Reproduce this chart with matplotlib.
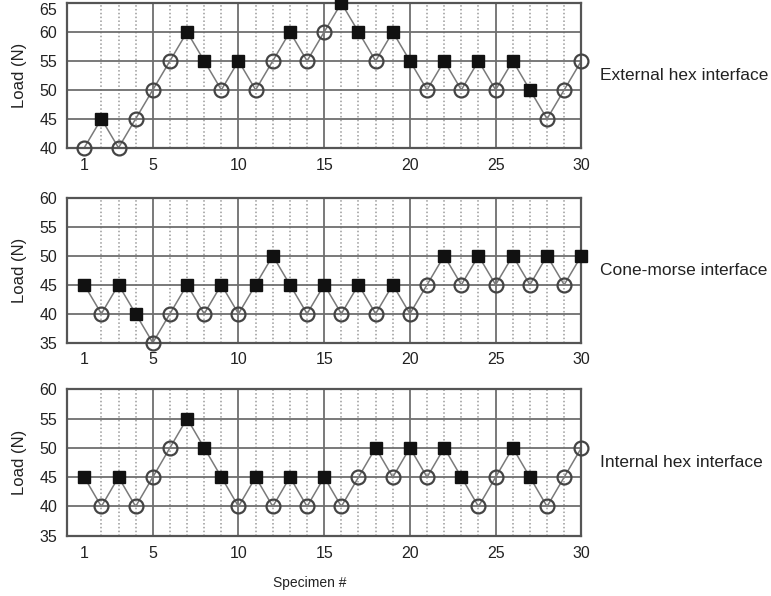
import numpy as np
import matplotlib
matplotlib.use('Agg')
import matplotlib.pyplot as plt

plt.rcParams['font.family'] = ['Liberation Sans', 'DejaVu Sans']

# ─── Data ────────────────────────────────────────────────────────────────────
specimen = list(range(1, 31))

external_load = [40, 45, 40, 45, 50, 55, 60, 55, 50, 55,
                 50, 55, 60, 55, 60, 65, 60, 55, 60, 55,
                 50, 55, 50, 55, 50, 55, 50, 45, 50, 55]
# 1 = failure (filled square), 0 = survival (open circle)
external_fail = [0, 1, 0, 0, 0, 0, 1, 1, 0, 1,
                 0, 0, 1, 0, 0, 1, 1, 0, 1, 1,
                 0, 1, 0, 1, 0, 1, 1, 0, 0, 0]

cone_load = [45, 40, 45, 40, 35, 40, 45, 40, 45, 40,
             45, 50, 45, 40, 45, 40, 45, 40, 45, 40,
             45, 50, 45, 50, 45, 50, 45, 50, 45, 50]
cone_fail = [1, 0, 1, 1, 0, 0, 1, 0, 1, 0,
             1, 1, 1, 0, 1, 0, 1, 0, 1, 0,
             0, 1, 0, 1, 0, 1, 0, 1, 0, 1]

internal_load = [45, 40, 45, 40, 45, 50, 55, 50, 45, 40,
                 45, 40, 45, 40, 45, 40, 45, 50, 45, 50,
                 45, 50, 45, 40, 45, 50, 45, 40, 45, 50]
internal_fail = [1, 0, 1, 0, 0, 0, 1, 1, 1, 0,
                 1, 0, 1, 0, 1, 0, 0, 1, 0, 1,
                 0, 1, 1, 0, 0, 1, 1, 0, 0, 0]

panel_names = ['External hex interface', 'Cone-morse interface', 'Internal hex interface']
panel_ylim = [(40, 65), (35, 60), (35, 60)]
x_ticks = [1, 5, 10, 15, 20, 25, 30]

# ─── Layout (figure fractions) ───────────────────────────────────────────────
axes_rects = [
    [0.087, 0.752, 0.667, 0.243],
    [0.087, 0.425, 0.667, 0.243],
    [0.087, 0.101, 0.667, 0.246],
]

GRID = '#6e6e6e'
LINE = '#7a7a7a'


def draw_panel(ax, loads, fails, ylim, name):
    ax.set_xlim(0, 30)
    ax.set_ylim(*ylim)
    ax.set_yticks(np.arange(ylim[0], ylim[1] + 1, 5))
    ax.set_xticks(x_ticks)
    ax.set_xticks(specimen, minor=True)

    # grid: dotted at every specimen, solid at every 5th, solid horizontals
    ax.grid(which='minor', axis='x', color='#9a9a9a', linestyle=(0, (1, 1.5)), linewidth=1.1)
    ax.grid(which='major', axis='y', color=GRID, linestyle='-', linewidth=1.3)
    for xv in range(5, 30, 5):
        ax.axvline(xv, color=GRID, linewidth=1.3, zorder=0.6)
    ax.set_axisbelow(True)

    ax.plot(specimen, loads, color=LINE, linewidth=1.1, zorder=2)
    fx = [s for s, f in zip(specimen, fails) if f]
    fy = [l for l, f in zip(loads, fails) if f]
    sx = [s for s, f in zip(specimen, fails) if not f]
    sy = [l for l, f in zip(loads, fails) if not f]
    ax.plot(fx, fy, linestyle='none', marker='s', markersize=8.5,
            markerfacecolor='#111111', markeredgecolor='#111111', zorder=3,
            clip_on=False)
    ax.plot(sx, sy, linestyle='none', marker='o', markersize=10,
            markerfacecolor='none', markeredgecolor='#444444',
            markeredgewidth=1.6, zorder=3, clip_on=False)

    for sp in ax.spines.values():
        sp.set_color('#555555')
        sp.set_linewidth(1.6)
    ax.tick_params(which='both', length=0, labelsize=11.5, colors='#222222')
    ax.tick_params(axis='x', pad=7)
    ax.tick_params(axis='y', pad=7)
    ax.set_ylabel('Load (N)', fontsize=12, color='#222222', labelpad=9)

    ax.text(1.036, 0.5, name, transform=ax.transAxes, ha='left', va='center',
            fontsize=12.5, color='#222222')


fig = plt.figure(figsize=(7.71, 5.96), dpi=100)
series = [(external_load, external_fail), (cone_load, cone_fail), (internal_load, internal_fail)]
axes = []
for rect, (loads, fails), ylim, name in zip(axes_rects, series, panel_ylim, panel_names):
    ax = fig.add_axes(rect)
    draw_panel(ax, loads, fails, ylim, name)
    axes.append(ax)

# top label of the first panel sits just under the figure edge
axes[0].get_yticklabels()[-1].set_verticalalignment('top')

fig.text(0.402, 0.022, 'Specimen #', ha='center', va='center', fontsize=10, color='#222222')

fig.savefig('out.png', dpi=100)
plt.close(fig)
